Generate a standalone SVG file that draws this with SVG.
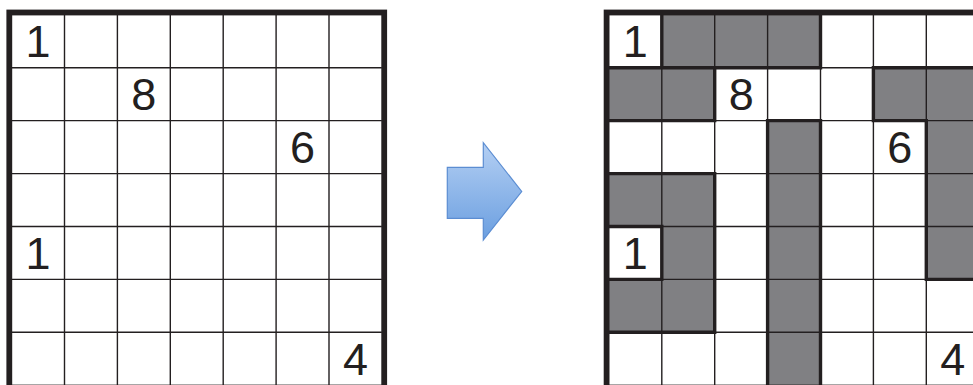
<svg xmlns="http://www.w3.org/2000/svg" width="973" height="385" viewBox="0 0 973 385">
<defs>
<style>
.thin{stroke:#231f20;stroke-width:1.4;fill:none}
.thick{stroke:#231f20;stroke-width:3.4;fill:none;stroke-linecap:square}
.border{stroke:#231f20;stroke-width:5.8;fill:none}
.gray{fill:#808083}
.num{font-family:"Liberation Sans",Arial,sans-serif;font-size:45px;fill:#231f20;text-anchor:middle}
</style>
<linearGradient id="ag" x1="0" y1="0" x2="0" y2="1">
<stop offset="0" stop-color="#b4cff3"/>
<stop offset="1" stop-color="#6b9fe0"/>
</linearGradient>
</defs>
<rect width="973" height="385" fill="#ffffff"/>
<g id="left-grid">
<path class="thin" d="M64.5 14.8V385.2M117.4 14.8V385.2M170.3 14.8V385.2M223.2 14.8V385.2M276.1 14.8V385.2M329 14.8V385.2M11.6 67.7H381.9M11.6 120.6H381.9M11.6 173.6H381.9M11.6 226.5H381.9M11.6 279.4H381.9M11.6 332.3H381.9"/>
<rect class="border" x="9.3" y="12.5" width="374.9" height="375"/>
<text class="num" x="38.05" y="57">1</text>
<text class="num" x="143.85" y="110">8</text>
<text class="num" x="302.55" y="162.9">6</text>
<text class="num" x="38.05" y="268.8">1</text>
<text class="num" x="355.45" y="374.6">4</text>
</g>
<g id="arrow">
<polygon points="447.3,167.3 483.3,167.3 483.3,142.7 521.7,191.5 483.3,240 483.3,218.3 447.3,218.3" fill="url(#ag)" stroke="#5b8dd2" stroke-width="1.2" stroke-linejoin="miter"/>
</g>
<g id="right-grid">
<g id="shaded">
<rect class="gray" x="661.8" y="14.8" width="158.7" height="52.9"/>
<rect class="gray" x="608.9" y="67.7" width="105.8" height="52.9"/>
<rect class="gray" x="873.4" y="67.7" width="105.8" height="52.9"/>
<rect class="gray" x="767.6" y="120.6" width="52.9" height="264.6"/>
<rect class="gray" x="926.3" y="120.6" width="52.9" height="158.8"/>
<rect class="gray" x="608.9" y="173.6" width="105.8" height="52.9"/>
<rect class="gray" x="661.8" y="226.5" width="52.9" height="52.9"/>
<rect class="gray" x="608.9" y="279.4" width="105.8" height="52.9"/>
</g>
<path class="thin" d="M661.8 14.8V385.2M714.7 14.8V385.2M767.6 14.8V385.2M820.5 14.8V385.2M873.4 14.8V385.2M926.3 14.8V385.2M608.9 67.7H979.2M608.9 120.6H979.2M608.9 173.6H979.2M608.9 226.5H979.2M608.9 279.4H979.2M608.9 332.3H979.2"/>
<path class="thick" d="M661.8 14.8V67.7M820.5 14.8V67.7M608.9 67.7H820.5M714.7 67.7V120.6M608.9 120.6H714.7M767.6 120.6V385.2M820.5 120.6V385.2M767.6 120.6H820.5M873.4 67.7H979.2M873.4 67.7V120.6M873.4 120.6H926.3M926.3 120.6V279.4M926.3 279.4H979.2M608.9 173.6H714.7M714.7 173.6V332.3M608.9 332.3H714.7M608.9 226.5H661.8M661.8 226.5V279.4M608.9 279.4H661.8"/>
<rect class="border" x="606.6" y="12.5" width="374.9" height="375"/>
<text class="num" x="635.35" y="57">1</text>
<text class="num" x="741.15" y="110">8</text>
<text class="num" x="899.85" y="162.9">6</text>
<text class="num" x="635.35" y="268.8">1</text>
<text class="num" x="952.75" y="374.6">4</text>
</g>
</svg>
